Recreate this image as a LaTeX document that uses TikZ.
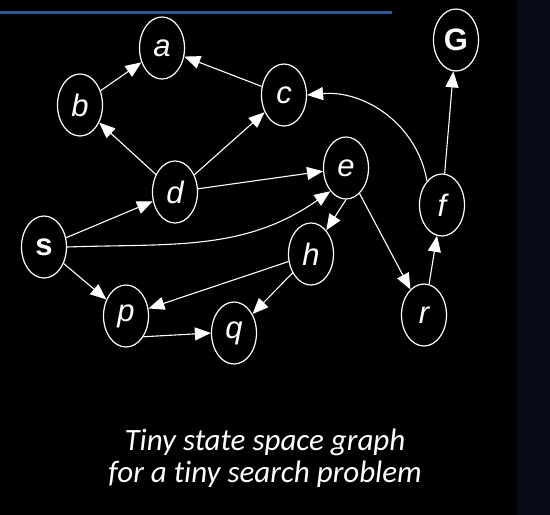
\documentclass[tikz,border=0pt]{standalone}
\usepackage{fontspec}
\setmainfont{Liberation Sans}
\newfontfamily\captionfont[Ligatures=NoCommon]{Carlito}
\usetikzlibrary{arrows.meta, shapes.geometric}

\definecolor{rulecol}{RGB}{44,90,150}
\definecolor{stripcol}{RGB}{10,11,26}

\begin{document}
\begin{tikzpicture}[
    x=1pt, y=-1pt,
    state/.style={draw=white, ellipse, line width=1.2pt, minimum width=45pt, minimum height=62pt,
      inner sep=0pt, text=white, font=\fontsize{31}{31}\selectfont\itshape},
    endstate/.style={state, font=\fontsize{31}{31}\selectfont\bfseries},
    edge/.style={draw=white, line width=1.1pt, -{Triangle[length=16pt, width=13pt]}},
    caption/.style={text=white, align=center, font=\captionfont\itshape\fontsize{31}{32}\selectfont},
  ]
  \useasboundingbox (0,0) rectangle (550,515);
  \fill[black] (0,0) rectangle (517,515);
  \fill[stripcol] (517,0) rectangle (550,515);
  \draw[rulecol, line width=2.2pt] (0,12.5) -- (392,12.5);

  % states
  \node[state] (a) at (162,48) {a};
  \node[state] (b) at (80,105) {b};
  \node[state] (c) at (284,95) {c};
  \node[state] (d) at (175,192) {d};
  \node[state] (e) at (346,168) {e};
  \node[endstate] (s) at (44,247) {s};
  \node[state] (h) at (311,254) {h};
  \node[state] (p) at (126,316) {p};
  \node[state] (q) at (234,333) {q};
  \node[state] (r) at (424,315) {r};
  \node[state] (f) at (442,205) {f};
  \node[endstate] (G) at (456,40) {G};

  % transitions
  \draw[edge] (b) -- (a);
  \draw[edge] (c) -- (a);
  \draw[edge] (d) -- (b);
  \draw[edge] (d) -- (c);
  \draw[edge] (d) -- (e);
  \draw[edge] (s) -- (d);
  \draw[edge] (s.east) to[out=2, in=215] (e.236);
  \draw[edge] (s) -- (p);
  \draw[edge] (e.south) -- (h);
  \draw[edge] (e) -- (r);
  \draw[edge] (h) -- (p);
  \draw[edge] (h) -- (q);
  \draw[edge] (p.-50) -- (q.west);
  \draw[edge] (r) -- (f);
  \draw[edge] (f) -- (G);
  \draw[edge] (f.122) to[out=100, in=5] (c.east);

  \node[caption] (cap) at (265,458) {Tiny state space graph\\for a tiny search problem};
\end{tikzpicture}
\end{document}
